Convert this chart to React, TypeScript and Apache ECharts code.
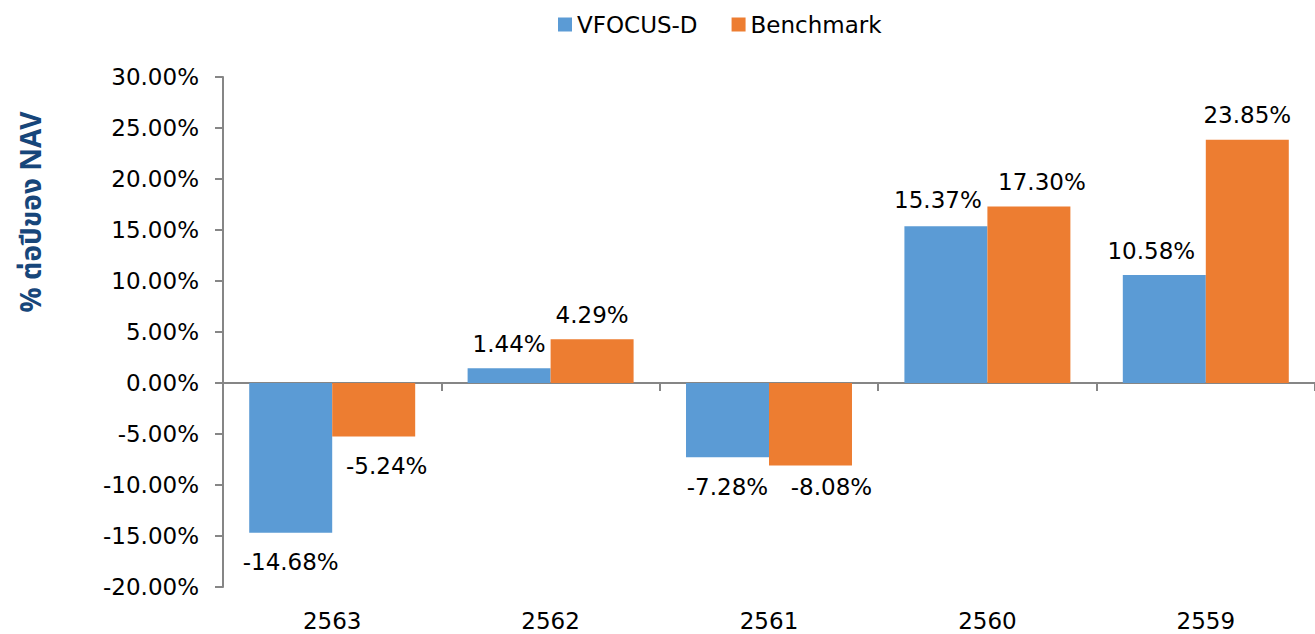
import React, { useEffect, useRef } from "react";
import * as echarts from "echarts";

const categories = ["2563", "2562", "2561", "2560", "2559"];
const fundValues = [-14.68, 1.44, -7.28, 15.37, 10.58];
const benchValues = [-5.24, 4.29, -8.08, 17.3, 23.85];
const seriesNames = ["VFOCUS-D", "Benchmark"];
const yTitle = "% ต่อปีของ NAV";

const FONT = "'DejaVu Sans', Verdana, sans-serif";

// manual label nudges (as in the original chart), [dx, dy] per category
const fundLabelNudge: [number, number][] = [[0, 0], [0, 0], [0, 0], [-8, -2], [-13, 0]];
const benchLabelNudge: [number, number][] = [[13, 0], [0, 0], [21, -8], [13, 0], [0, 0]];

function withLabels(values: number[], nudge: [number, number][]) {
  return values.map((v, i) => ({
    value: v,
    label: {
      position: v >= 0 ? "top" : "bottom",
      distance: v >= 0 ? 13 : 18,
      offset: nudge[i],
    },
  }));
}

export default function App() {
  const ref = useRef<HTMLDivElement>(null);
  useEffect(() => {
    if (!ref.current) return;
    const chart = echarts.init(ref.current, null, { renderer: "svg" });
    const labelStyle = {
      show: true,
      fontFamily: FONT,
      fontSize: 23,
      color: "#000",
      formatter: (p: any) => p.value.toFixed(2) + "%",
    };
    chart.setOption({
      animation: false,
      textStyle: { fontFamily: FONT },
      legend: {
        data: seriesNames,
        left: 553,
        top: 8,
        icon: "rect",
        itemWidth: 14,
        itemHeight: 14,
        itemGap: 34,
        textStyle: { fontFamily: FONT, fontSize: 23, color: "#000" },
      },
      grid: { left: 223, right: 0, top: 77, bottom: 47, containLabel: false },
      xAxis: [
        {
          type: "category",
          data: categories,
          axisLine: { onZero: true, lineStyle: { color: "#868686", width: 2 } },
          axisTick: { show: true, length: 8, lineStyle: { color: "#868686", width: 2 } },
          axisLabel: { show: false },
        },
        {
          type: "category",
          data: categories,
          position: "bottom",
          axisLine: { show: false, onZero: false },
          axisTick: { show: false },
          axisLabel: { show: true, fontFamily: FONT, fontSize: 23, color: "#000", margin: 22 },
        },
      ],
      yAxis: {
        type: "value",
        min: -20,
        max: 30,
        interval: 5,
        splitLine: { show: false },
        axisLine: { show: true, lineStyle: { color: "#868686", width: 2 } },
        axisTick: { show: true, length: 8, lineStyle: { color: "#868686", width: 2 } },
        axisLabel: {
          fontFamily: FONT,
          fontSize: 23,
          color: "#000",
          margin: 24,
          formatter: (v: number) => v.toFixed(2) + "%",
        },
      },
      graphic: [
        {
          type: "text",
          x: 32,
          y: 212,
          rotation: Math.PI / 2,
          style: {
            text: yTitle,
            fontFamily: "'Noto Sans Thai', Tahoma, 'DejaVu Sans', sans-serif",
            fontWeight: "bold",
            fontSize: 28,
            fill: "#17467A",
            align: "center",
            verticalAlign: "middle",
          },
        },
      ],
      series: [
        {
          name: seriesNames[0],
          type: "bar",
          xAxisIndex: 0,
          data: withLabels(fundValues, fundLabelNudge),
          barGap: "0%",
          barCategoryGap: "24%",
          itemStyle: { color: "#5B9BD5" },
          label: labelStyle,
        },
        {
          name: seriesNames[1],
          type: "bar",
          xAxisIndex: 0,
          data: withLabels(benchValues, benchLabelNudge),
          barGap: "0%",
          barCategoryGap: "24%",
          itemStyle: { color: "#ED7D31" },
          label: labelStyle,
        },
      ],
    });
    return () => chart.dispose();
  }, []);
  return (
    <div
      ref={ref}
      style={{ position: "fixed", left: 0, top: 0, width: 1315, height: 634, background: "#fff" }}
    />
  );
}
